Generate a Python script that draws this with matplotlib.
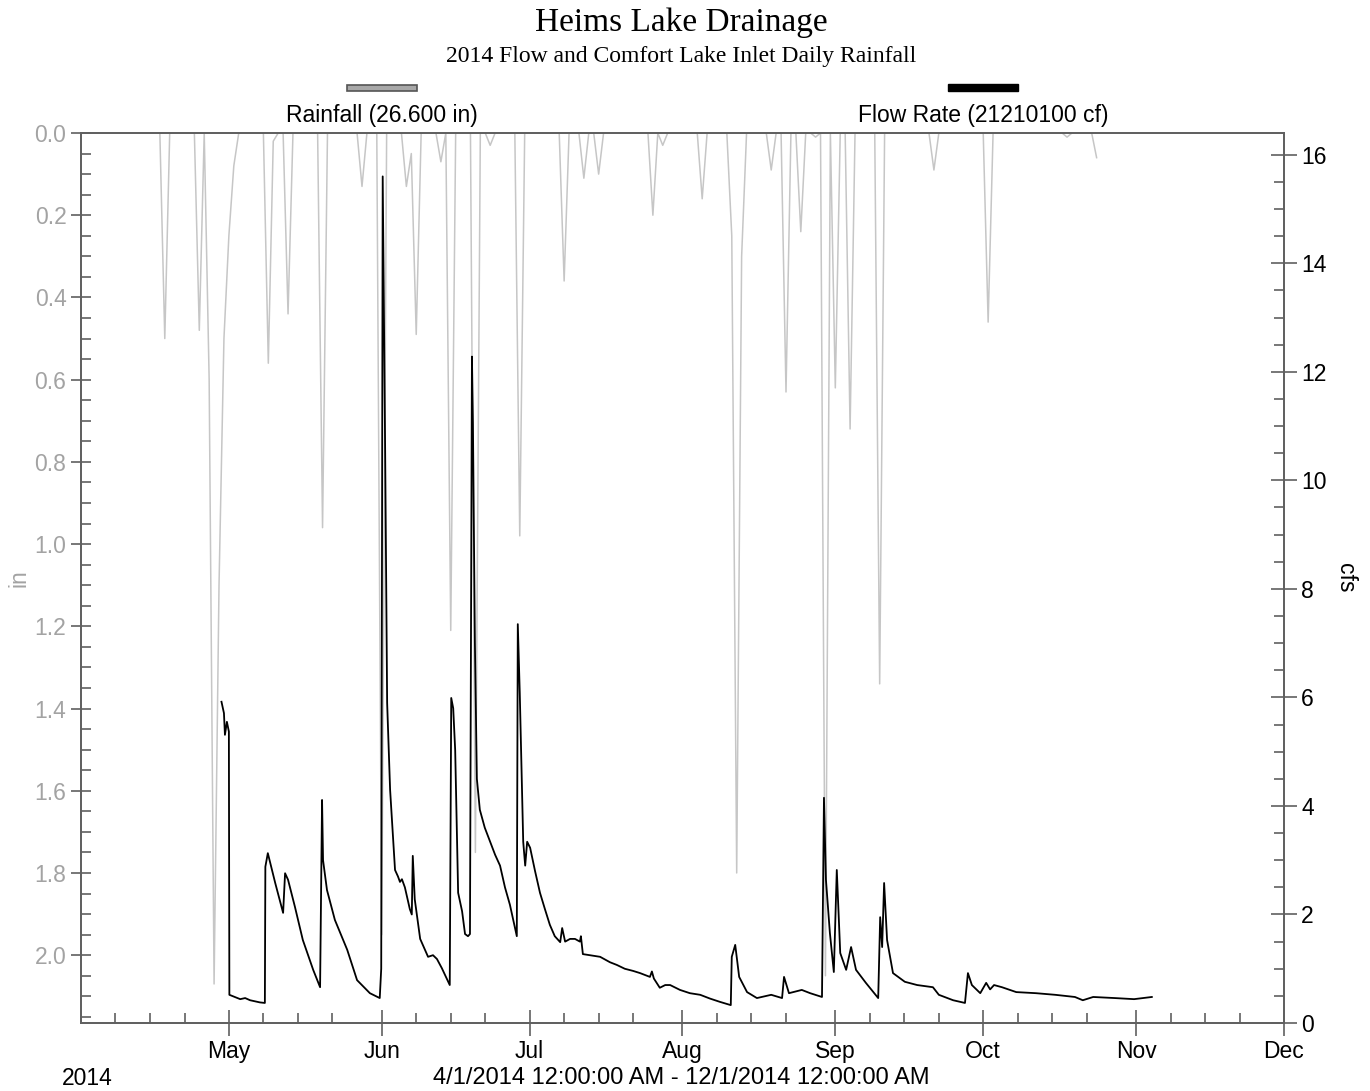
import numpy as np
import pandas as pd
import matplotlib
matplotlib.use('Agg')
import matplotlib.pyplot as plt
import matplotlib.dates as mdates
from matplotlib.ticker import MultipleLocator, FormatStrFormatter
from matplotlib.patches import Rectangle

plt.rcParams['font.family'] = ['Liberation Sans', 'DejaVu Sans']

start = pd.Timestamp('2014-04-01')
end = pd.Timestamp('2014-12-01')

# daily rainfall (in), days not listed are zero
rain_dates = ['2014-04-18', '2014-04-25', '2014-04-27', '2014-04-28', '2014-04-29',
              '2014-04-30', '2014-05-01', '2014-05-02', '2014-05-09', '2014-05-10',
              '2014-05-13', '2014-05-20', '2014-05-28', '2014-06-01', '2014-06-06',
              '2014-06-07', '2014-06-08', '2014-06-13', '2014-06-15', '2014-06-20',
              '2014-06-23', '2014-06-29', '2014-07-08', '2014-07-12', '2014-07-15',
              '2014-07-26', '2014-07-28', '2014-08-05', '2014-08-11', '2014-08-12',
              '2014-08-13', '2014-08-19', '2014-08-22', '2014-08-25', '2014-08-28',
              '2014-08-30', '2014-09-01', '2014-09-04', '2014-09-10', '2014-09-21',
              '2014-10-02', '2014-10-18', '2014-10-24']
rain_in = [0.50, 0.48, 0.60, 2.07, 1.10,
           0.50, 0.25, 0.08, 0.56, 0.02,
           0.44, 0.96, 0.13, 1.95, 0.13,
           0.05, 0.49, 0.07, 1.21, 1.75,
           0.03, 0.98, 0.36, 0.11, 0.10,
           0.20, 0.03, 0.16, 0.25, 1.80,
           0.30, 0.09, 0.63, 0.24, 0.01,
           2.05, 0.62, 0.72, 1.34, 0.09,
           0.46, 0.01, 0.06]
rain_last = '2014-10-24'

# flow rate (cfs), time in days after 4/1/2014
flow_day = [28.5, 29.0, 29.2, 29.6, 30.0, 30.1, 31.2, 32.3, 33.3, 34.3,
            35.3, 36.3, 37.3, 37.4, 37.9, 39.4, 41.0, 41.4, 42.0, 43.4,
            45.0, 47.1, 48.5, 48.9, 49.1, 49.9, 51.5, 54.0, 56.0, 58.6,
            60.6, 60.9, 61.2, 61.7, 62.1, 62.7, 63.7, 64.3, 64.7, 65.1,
            65.7, 66.7, 67.1, 67.3, 67.7, 68.8, 70.4, 71.4, 72.2, 73.2,
            74.8, 75.1, 75.5, 75.9, 76.5, 77.3, 77.9, 78.5, 78.9, 79.3,
            79.5, 79.9, 80.3, 80.9, 81.9, 83.0, 84.0, 85.0, 86.0, 87.0,
            88.4, 88.6, 89.0, 89.7, 90.1, 90.5, 91.1, 92.1, 93.1, 94.1,
            95.1, 96.1, 97.2, 97.6, 98.2, 99.2, 100.2, 101.2, 101.4, 101.8,
            103.2, 105.3, 107.3, 108.7, 110.3, 112.0, 113.4, 115.4, 115.8, 116.2,
            117.4, 118.5, 119.5, 121.5, 123.5, 125.6, 127.6, 129.6, 131.8, 132.0,
            132.7, 133.5, 135.1, 137.1, 140.0, 142.2, 142.6, 143.6, 146.2, 147.9,
            150.3, 150.7, 151.1, 151.9, 152.7, 153.3, 154.0, 155.2, 156.2, 157.2,
            159.2, 161.7, 162.1, 162.5, 162.9, 163.5, 164.7, 167.1, 169.6, 172.8,
            174.0, 176.9, 179.3, 179.9, 180.7, 182.4, 183.6, 184.4, 185.2, 186.8,
            189.7, 193.7, 197.6, 201.6, 203.2, 205.3, 209.7, 213.6, 217.2]
flow_cfs = [5.92, 5.71, 5.31, 5.55, 5.37, 0.52, 0.48, 0.44, 0.46, 0.42,
            0.40, 0.38, 0.37, 2.88, 3.13, 2.58, 2.03, 2.76, 2.64, 2.14,
            1.53, 0.98, 0.66, 4.11, 3.00, 2.45, 1.90, 1.35, 0.79, 0.55,
            0.46, 1.00, 15.6, 10.5, 5.90, 4.30, 2.82, 2.70, 2.60, 2.65,
            2.50, 2.10, 2.00, 3.08, 2.28, 1.55, 1.22, 1.25, 1.18, 1.01,
            0.70, 5.99, 5.80, 5.03, 2.40, 2.06, 1.64, 1.60, 1.64, 12.28,
            11.06, 7.00, 4.50, 3.93, 3.60, 3.34, 3.10, 2.90, 2.50, 2.18,
            1.60, 7.35, 6.08, 3.34, 2.90, 3.34, 3.23, 2.80, 2.40, 2.10,
            1.81, 1.60, 1.49, 1.75, 1.50, 1.55, 1.55, 1.50, 1.60, 1.27,
            1.25, 1.22, 1.12, 1.07, 1.00, 0.96, 0.92, 0.85, 0.95, 0.82,
            0.65, 0.70, 0.70, 0.61, 0.55, 0.52, 0.45, 0.39, 0.33, 1.22,
            1.44, 0.85, 0.57, 0.46, 0.52, 0.46, 0.85, 0.55, 0.61, 0.55,
            0.48, 4.15, 2.64, 1.66, 0.94, 2.82, 1.29, 0.98, 1.40, 0.98,
            0.74, 0.46, 1.95, 1.40, 2.58, 1.53, 0.92, 0.76, 0.70, 0.66,
            0.52, 0.42, 0.37, 0.92, 0.70, 0.55, 0.74, 0.62, 0.70, 0.66,
            0.57, 0.55, 0.52, 0.48, 0.42, 0.48, 0.46, 0.44, 0.48]

rain = pd.Series(0.0, index=pd.date_range(start, rain_last, freq='D'))
rain[pd.to_datetime(rain_dates)] = rain_in
flow_t = start + pd.to_timedelta(flow_day, unit='D')

axis_col = '#606060'
left_col = '#a3a3a3'
fs = 16.5

fig = plt.figure(figsize=(13.7, 10.91), dpi=100)
ax = fig.add_axes([0.0591, 0.0623, 0.8781, 0.8158])
ax.plot(rain.index, rain.values, color='#c6c6c6', lw=1.1)
ax.set_xlim(start, end)
ax.set_ylim(2.165, 0)
ax.yaxis.set_major_locator(MultipleLocator(0.2))
ax.yaxis.set_minor_locator(MultipleLocator(0.05))
ax.yaxis.set_major_formatter(FormatStrFormatter('%.1f'))
ax.set_ylabel('in', color=left_col, fontsize=fs)
ax.yaxis.set_label_coords(-0.042, 0.5)

ax.xaxis.set_major_locator(mdates.MonthLocator(bymonth=range(5, 13)))
ax.xaxis.set_major_formatter(mdates.DateFormatter('%b'))
ax.xaxis.set_minor_locator(mdates.DayLocator(bymonthday=[8, 15, 22]))

ax2 = ax.twinx()
ax2.plot(flow_t, flow_cfs, color='black', lw=1.3)
ax2.set_ylim(0, 16.4)
ax2.yaxis.set_major_locator(MultipleLocator(2))
ax2.yaxis.set_minor_locator(MultipleLocator(0.5))
ax2.set_ylabel('cfs', fontsize=fs, rotation=270, va='center')
ax2.yaxis.set_label_coords(1.051, 0.5)

for a in (ax, ax2):
    for s in a.spines.values():
        s.set_color(axis_col)
        s.set_linewidth(1.3)
ax.tick_params(axis='x', which='major', direction='inout', length=19, width=1.2,
               color=axis_col, labelsize=fs, pad=3)
ax.tick_params(axis='x', which='minor', direction='in', length=7, width=1.2, color=axis_col)
ax.tick_params(axis='y', which='major', direction='inout', length=15, width=1.2,
               color=axis_col, labelsize=fs, labelcolor=left_col, pad=3)
ax.tick_params(axis='y', which='minor', direction='in', length=7, width=1.2, color=axis_col)
ax2.tick_params(axis='y', which='major', direction='inout', length=19, width=1.2,
                color=axis_col, labelsize=fs, pad=3)
ax2.tick_params(axis='y', which='minor', direction='in', length=7, width=1.2, color=axis_col)

fig.text(0.497, 0.979, 'Heims Lake Drainage', ha='center', va='center',
         family='Liberation Serif', fontsize=24)
fig.text(0.497, 0.948, '2014 Flow and Comfort Lake Inlet Daily Rainfall', ha='center',
         va='center', family='Liberation Serif', fontsize=17)

# series legend above the plot
fig.add_artist(Rectangle((0.2533, 0.9162), 0.0511, 0.0062, transform=fig.transFigure,
                         facecolor='#a8a8a8', edgecolor='#555555', lw=1.2))
fig.add_artist(Rectangle((0.692, 0.9162), 0.0511, 0.0064, transform=fig.transFigure,
                         facecolor='black', edgecolor='black', lw=1))
fig.text(0.2788, 0.8937, 'Rainfall (26.600 in)', ha='center', va='center', fontsize=fs)
fig.text(0.7175, 0.8937, 'Flow Rate (21210100 cf)', ha='center', va='center', fontsize=fs)

fig.text(0.0635, 0.0119, '2014', ha='center', va='center', fontsize=fs)
fig.text(0.497, 0.0119, '4/1/2014 12:00:00 AM - 12/1/2014 12:00:00 AM', ha='center',
         va='center', fontsize=17)

fig.savefig('out.png', dpi=100)
